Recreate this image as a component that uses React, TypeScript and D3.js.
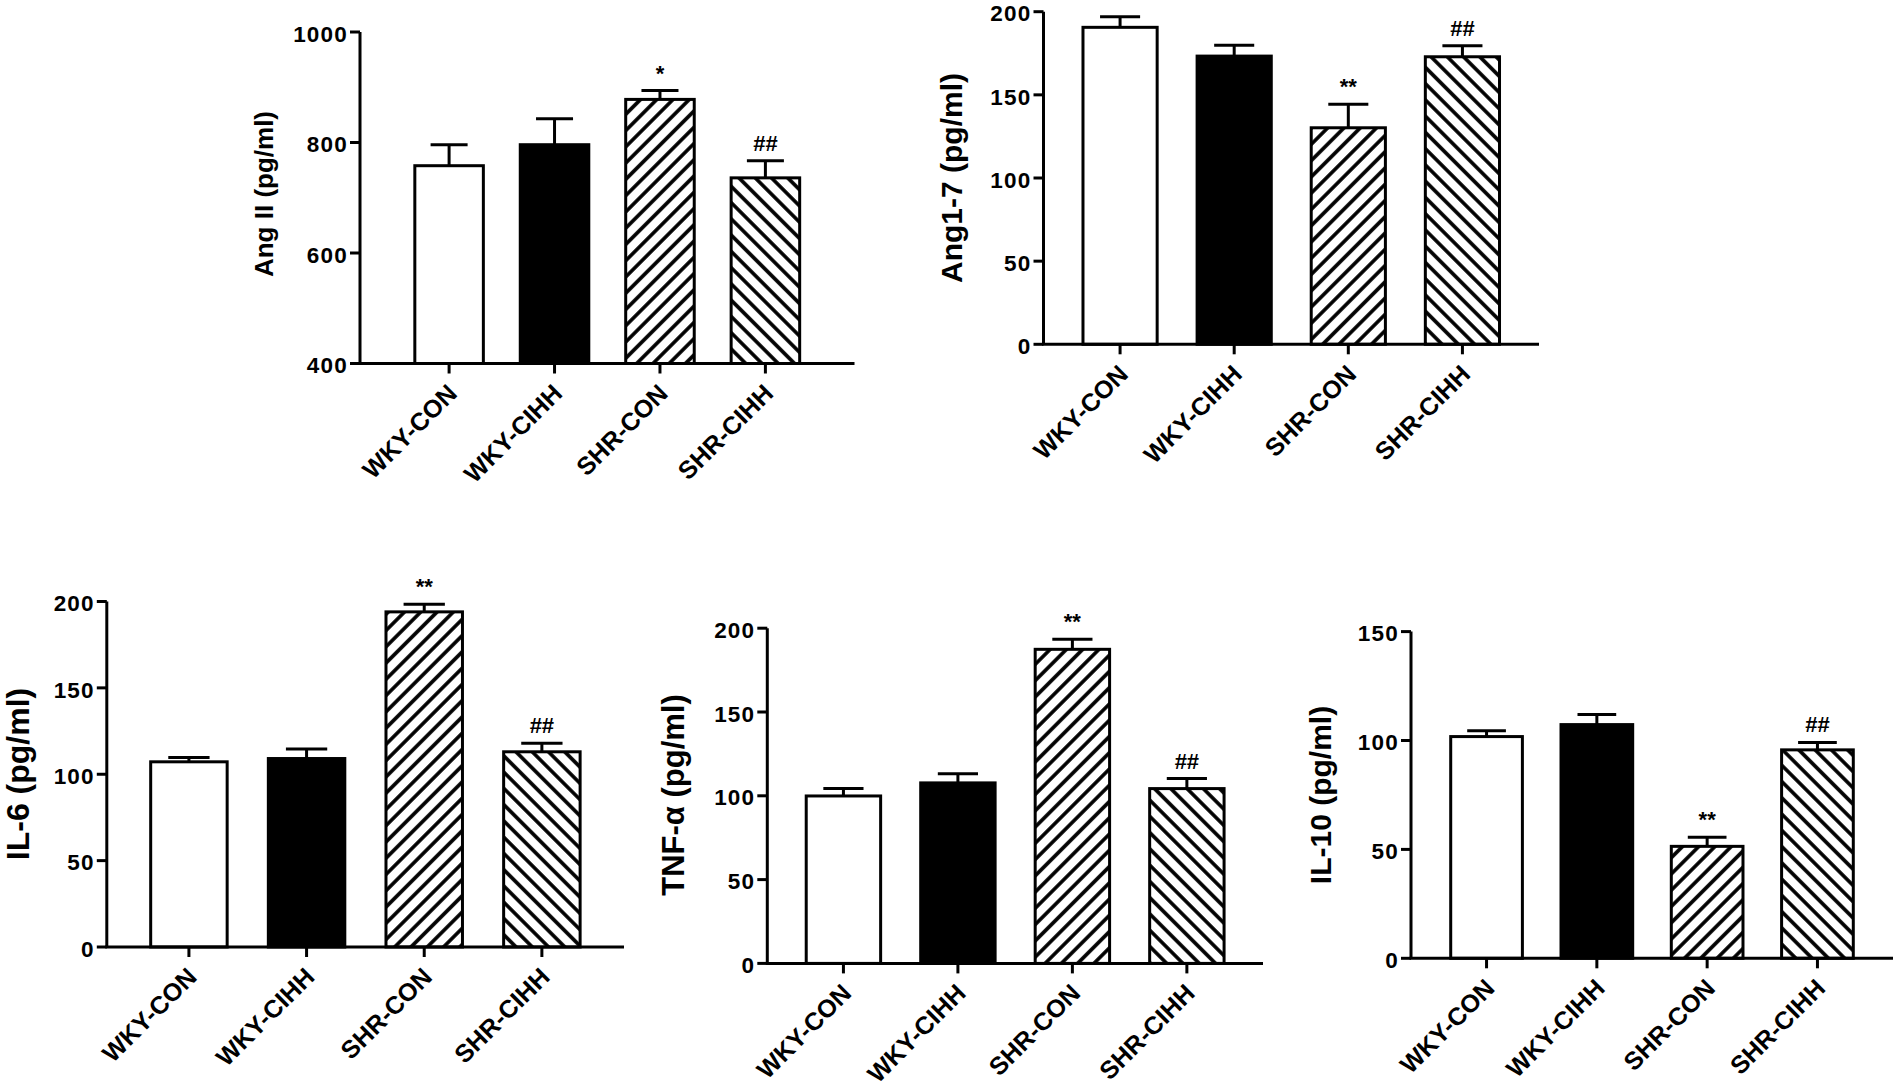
import { useEffect, useRef } from "react";
import * as d3 from "d3";

// groups on every x axis
const groups = ["WKY-CON", "WKY-CIHH", "SHR-CON", "SHR-CIHH"];
const fills = ["white", "black", "url(#hatchFwd)", "url(#hatchBack)"];

// values (mean, upper SEM)
const angII = [758, 796, 878, 736];
const angIIErr = [38, 47, 16, 31];
const angIITicks = [400, 600, 800, 1000];

const ang17 = [190.6, 173.3, 130.2, 172.9];
const ang17Err = [6.3, 6.5, 14.1, 6.7];
const ang17Ticks = [0, 50, 100, 150, 200];

const il6 = [107.2, 109.1, 194, 113];
const il6Err = [2.5, 5.5, 4.4, 4.9];
const il6Ticks = [0, 50, 100, 150, 200];

const tnf = [99.9, 107.7, 187.4, 104.3];
const tnfErr = [4.4, 5.4, 6, 6];
const tnfTicks = [0, 50, 100, 150, 200];

const il10 = [101.8, 107.3, 51.4, 95.7];
const il10Err = [2.7, 4.6, 4.2, 3.4];
const il10Ticks = [0, 50, 100, 150];

const marksAngII = ["", "", "*", "##"];
const marksOther = ["", "", "**", "##"];

const FONT = "'Liberation Sans', Arial, Helvetica, sans-serif";

interface PanelCfg {
  label: string;
  values: number[];
  errs: number[];
  ticks: number[];
  marks: string[];
  // layout
  x0: number; x1: number; yTop: number; yBot: number; po: number;
  labelX: number; labelY: number; labelSize: number;
}

const panels: PanelCfg[] = [
  { label: "Ang II (pg/ml)", values: angII, errs: angIIErr, ticks: angIITicks, marks: marksAngII,
    x0: 360, x1: 854.5, yTop: 32, yBot: 363.5, po: 0.52, labelX: 272.5, labelY: 194, labelSize: 26 },
  { label: "Ang1-7 (pg/ml)", values: ang17, errs: ang17Err, ticks: ang17Ticks, marks: marksOther,
    x0: 1043.5, x1: 1539, yTop: 11.7, yBot: 344.3, po: 0.346, labelX: 961.5, labelY: 178, labelSize: 30 },
  { label: "IL-6 (pg/ml)", values: il6, errs: il6Err, ticks: il6Ticks, marks: marksOther,
    x0: 106.8, x1: 624, yTop: 601.5, yBot: 947, po: 0.373, labelX: 29, labelY: 774, labelSize: 32 },
  { label: "TNF-α (pg/ml)", values: tnf, errs: tnfErr, ticks: tnfTicks, marks: marksOther,
    x0: 767.3, x1: 1263, yTop: 628.2, yBot: 963.4, po: 0.34, labelX: 684, labelY: 795, labelSize: 31 },
  { label: "IL-10 (pg/ml)", values: il10, errs: il10Err, ticks: il10Ticks, marks: marksOther,
    x0: 1411, x1: 1893, yTop: 631.6, yBot: 958.3, po: 0.36, labelX: 1331, labelY: 795, labelSize: 30 },
];

export default function App() {
  const svgRef = useRef<SVGSVGElement>(null);

  useEffect(() => {
    if (!svgRef.current) return;
    const svg = d3.select(svgRef.current);
    svg.selectAll("g.panel").remove();

    panels.forEach(p => {
      const g = svg.append("g").attr("class", "panel").attr("font-family", FONT);
      const x = d3.scaleBand<string>().domain(groups).range([p.x0, p.x1])
        .paddingInner(0.35).paddingOuter(p.po);
      const y = d3.scaleLinear().domain([p.ticks[0], p.ticks[p.ticks.length - 1]])
        .range([p.yBot, p.yTop]);
      const bw = x.bandwidth();

      // bars
      g.selectAll("rect.bar").data(p.values).enter().append("rect")
        .attr("x", (_, i) => x(groups[i])!)
        .attr("y", d => y(d))
        .attr("width", bw)
        .attr("height", d => p.yBot - y(d))
        .attr("fill", (_, i) => fills[i])
        .attr("stroke", "black").attr("stroke-width", 3);

      // upper error bars
      p.values.forEach((v, i) => {
        const cx = x(groups[i])! + bw / 2;
        const top = y(v + p.errs[i]);
        g.append("line").attr("x1", cx).attr("x2", cx).attr("y1", y(v)).attr("y2", top)
          .attr("stroke", "black").attr("stroke-width", 3);
        g.append("line").attr("x1", cx - bw * 0.27).attr("x2", cx + bw * 0.27)
          .attr("y1", top).attr("y2", top)
          .attr("stroke", "black").attr("stroke-width", 3);
        if (p.marks[i]) {
          g.append("text").attr("x", cx).attr("y", top - 10)
            .attr("text-anchor", "middle").attr("font-size", 22).attr("font-weight", "bold")
            .text(p.marks[i]);
        }
      });

      // y axis
      g.append("line").attr("x1", p.x0).attr("x2", p.x0).attr("y1", p.yBot).attr("y2", p.yTop)
        .attr("stroke", "black").attr("stroke-width", 3);
      g.selectAll("line.yt").data(p.ticks).enter().append("line")
        .attr("x1", p.x0 - 10).attr("x2", p.x0)
        .attr("y1", d => y(d)).attr("y2", d => y(d))
        .attr("stroke", "black").attr("stroke-width", 3);
      g.selectAll("text.yl").data(p.ticks).enter().append("text")
        .attr("x", p.x0 - 12).attr("y", d => y(d)).attr("dy", "0.43em")
        .attr("text-anchor", "end").attr("font-size", 22.5).attr("font-weight", "bold")
        .attr("letter-spacing", 1.2)
        .text(d => d);

      // x axis
      g.append("line").attr("x1", p.x0 - 1.5).attr("x2", p.x1).attr("y1", p.yBot).attr("y2", p.yBot)
        .attr("stroke", "black").attr("stroke-width", 3);
      groups.forEach(name => {
        const cx = x(name)! + bw / 2;
        g.append("line").attr("x1", cx).attr("x2", cx).attr("y1", p.yBot).attr("y2", p.yBot + 10)
          .attr("stroke", "black").attr("stroke-width", 3);
        g.append("text")
          .attr("transform", `translate(${cx + 3},${p.yBot + 25}) rotate(-45)`)
          .attr("dy", "0.36em").attr("text-anchor", "end")
          .attr("font-size", 25).attr("font-weight", "bold")
          .text(name);
      });

      // y label
      g.append("text")
        .attr("transform", `translate(${p.labelX},${p.labelY}) rotate(-90)`)
        .attr("text-anchor", "middle").attr("font-size", p.labelSize).attr("font-weight", "bold")
        .text(p.label);
    });
  }, []);

  return (
    <svg ref={svgRef} width={1900} height={1087}
      style={{ position: "absolute", left: 0, top: 0, background: "white" }}>
      <defs>
        <pattern id="hatchFwd" patternUnits="userSpaceOnUse" width={11.5} height={11.5}
          patternTransform="rotate(45)">
          <rect width={11.5} height={11.5} fill="white" />
          <line x1={5.75} y1={0} x2={5.75} y2={11.5} stroke="black" strokeWidth={3.6} />
        </pattern>
        <pattern id="hatchBack" patternUnits="userSpaceOnUse" width={11.5} height={11.5}
          patternTransform="rotate(-45)">
          <rect width={11.5} height={11.5} fill="white" />
          <line x1={5.75} y1={0} x2={5.75} y2={11.5} stroke="black" strokeWidth={3.6} />
        </pattern>
      </defs>
    </svg>
  );
}
